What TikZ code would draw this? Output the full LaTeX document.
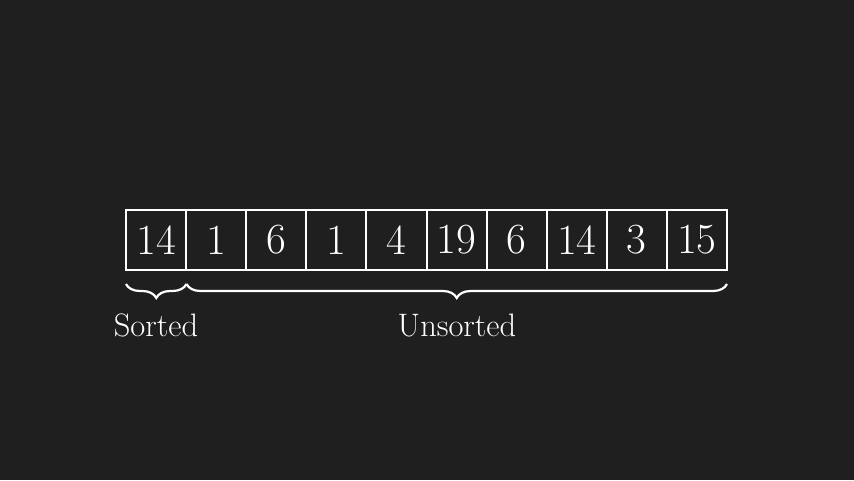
\documentclass[tikz,border=0pt]{standalone}
\usetikzlibrary{decorations.pathreplacing}
\definecolor{bg}{HTML}{1F1F1F}
\begin{document}
\begin{tikzpicture}[x=1pt,y=1pt,
  cell/.style={draw=white,line width=2pt,minimum width=60.1pt,minimum height=60.5pt,inner sep=0pt,text=white,font=\fontsize{43}{50}\selectfont},
  brc/.style={draw=white,line width=2.2pt,decorate,decoration={brace,mirror,amplitude=14pt}},
  lbl/.style={text=white,font=\fontsize{32.5}{38}\selectfont}]
\fill[bg] (0,0) rectangle (854,480);
\useasboundingbox (0,0) rectangle (854,480);
\foreach \v [count=\i from 0] in {14,1,6,1,4,19,6,14,3,15}{
  \node[cell] (c\i) at ({126+60.1*(\i+0.5)},240) {\v};
}
\coordinate (b0) at (126,196);
\coordinate (b1) at (186.5,196);
\coordinate (b2) at (727,196);
\draw[brc] (b0) -- (b1);
\draw[brc] (b1) -- (b2);
\node[lbl] (s) at (156,155) {Sorted};
\node[lbl] (u) at (457,155) {Unsorted};
\end{tikzpicture}
\end{document}
